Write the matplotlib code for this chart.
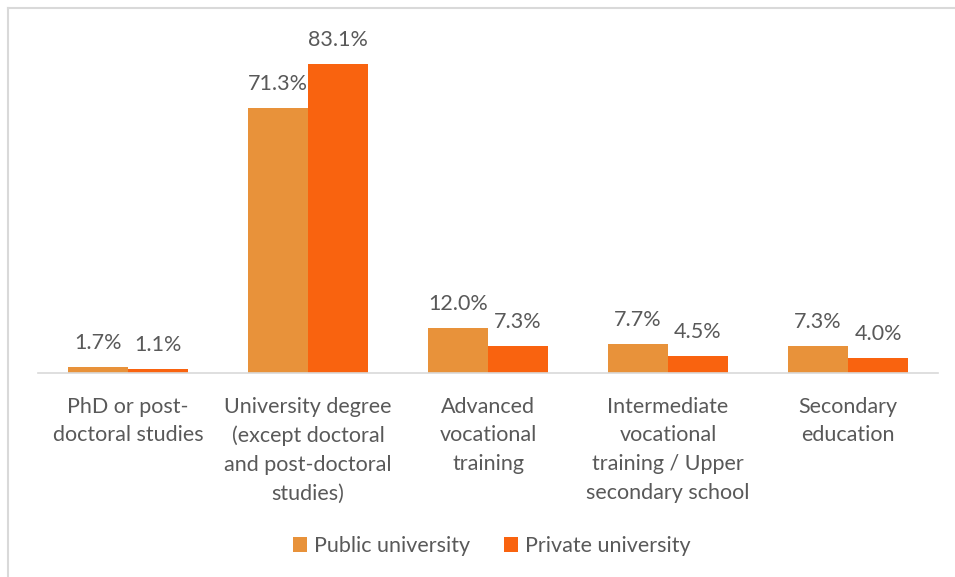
import matplotlib.pyplot as plt
import numpy as np

categories = [
    "PhD or post-\ndoctoral studies",
    "University degree\n(except doctoral\nand post-doctoral\nstudies)",
    "Advanced\nvocational\ntraining",
    "Intermediate\nvocational\ntraining / Upper\nsecondary school",
    "Secondary\neducation",
]
public_vals = [1.7, 71.3, 12.0, 7.7, 7.3]
private_vals = [1.1, 83.1, 7.3, 4.5, 4.0]
series_names = ["Public university", "Private university"]

c_public = "#E8923A"
c_private = "#F9630F"
txt = "#595959"
fs = 15.5

plt.rcParams['font.family'] = ['Lato', 'DejaVu Sans']

fig = plt.figure(figsize=(9.55, 5.77), dpi=100)
# axes: x 38..938 px, baseline y=373, top at 90% -> y~38
W, H = 955, 577
ax = fig.add_axes([38 / W, 1 - 373 / H, 900 / W, (373 - 38) / H])

x = np.arange(len(categories))
bw = 1 / 3
b1 = ax.bar(x - bw / 2, public_vals, bw, color=c_public, label=series_names[0])
b2 = ax.bar(x + bw / 2, private_vals, bw, color=c_private, label=series_names[1])

for bars in (b1, b2):
    for r in bars:
        ax.annotate(f"{r.get_height():.1f}%", (r.get_x() + r.get_width() / 2, r.get_height()),
                    xytext=(0, 10), textcoords="offset points", ha="center", va="bottom",
                    fontsize=fs, color=txt)

ax.set_xlim(-0.5, len(categories) - 0.5)
ax.set_ylim(0, 90)
ax.set_yticks([])
ax.set_xticks(x)
ax.set_xticklabels(categories, fontsize=fs, color=txt, linespacing=1.55, va="top")
ax.tick_params(axis="x", length=0, pad=17)
for s in ["top", "right", "left"]:
    ax.spines[s].set_visible(False)
ax.spines["bottom"].set_color("#D9D9D9")
ax.spines["bottom"].set_linewidth(1.2)

fig.legend(handles=[b1, b2], loc="center", bbox_to_anchor=(492 / W, 1 - 546 / H), ncol=2,
           frameon=False, fontsize=fs, labelcolor=txt, handlelength=0.65, handleheight=0.65,
           handletextpad=0.3, columnspacing=1.6)

# light border on the left and top edges
fig.add_artist(plt.Line2D([8 / W, 8 / W], [0, 1 - 8 / H], color="#D9D9D9", lw=1.5))
fig.add_artist(plt.Line2D([8 / W, 1], [1 - 8 / H, 1 - 8 / H], color="#D9D9D9", lw=1.5))

fig.savefig("out.png", dpi=100)
